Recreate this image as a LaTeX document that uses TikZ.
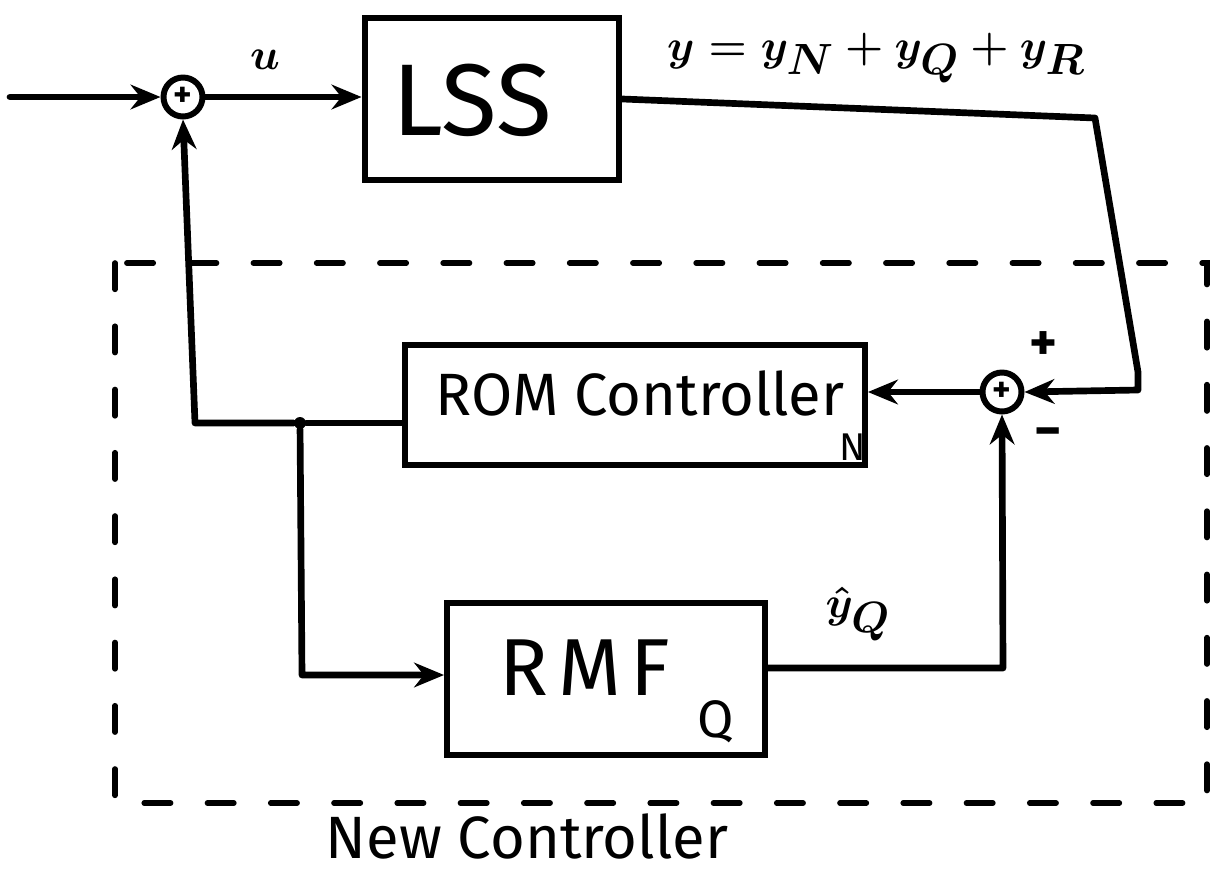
\documentclass[tikz,border=0pt]{standalone}
\usepackage{fontspec}
\setmainfont{Fira Sans}
\usetikzlibrary{arrows.meta}
\begin{document}
\begin{tikzpicture}[x=0.02cm,y=-0.02cm,
  wire/.style={line width=3.8pt, line cap=round, line join=round},
  arr/.style={wire,-{Stealth[length=17pt,width=14pt]}},
  blk/.style={draw,line width=3.4pt,inner sep=0pt},
  sumj/.style={draw,circle,line width=3.4pt,minimum size=0.78cm,inner sep=0pt,font=\fontsize{20}{20}\selectfont\bfseries},
  lbl/.style={inner sep=0pt},
  dashbox/.style={line width=3.2pt, line cap=round, dash pattern=on 15pt off 21pt}
]
\useasboundingbox (0,0) rectangle (1221,873);
% blocks
\node[sumj] (s1) at (183,97) {+};
\node[sumj] (s2) at (1002,392) {+};
\node[blk,minimum width=5.1cm,minimum height=3.24cm] (lss) at (492,99) {};
\node[lbl,font=\fontsize{58}{60}\selectfont] (lsst) at (472,100) {LSS};
\node[blk,minimum width=9.2cm,minimum height=2.4cm] (rom) at (635,405) {};
\node[lbl,font=\fontsize{34}{38}\selectfont] (romt) at (640,393) {ROM Controller};
\node[lbl,font=\fontsize{22}{24}\selectfont] (romn) at (853,447) {N};
\node[blk,minimum width=6.36cm,minimum height=3.04cm] (rmf) at (606,679) {};
\node[lbl,font=\fontsize{46}{48}\selectfont\addfontfeature{LetterSpace=12}] (rmft) at (585,668) {RMF};
\node[lbl,font=\fontsize{30}{32}\selectfont] (rmfq) at (716,722) {Q};
% labels
\node[lbl,font=\fontsize{36}{38}\selectfont\boldmath] (u) at (265,60) {$u$};
\node[lbl,font=\fontsize{39}{40}\selectfont\boldmath] (ylab) at (876,58) {$y = y_N + y_Q + y_R$};
\node[lbl,font=\fontsize{36}{38}\selectfont\boldmath] (yhat) at (858,614) {$\hat{y}_Q$};
\node[lbl,font=\fontsize{30}{30}\selectfont\bfseries] (plus) at (1043,346) {+};
\node[lbl,font=\fontsize{30}{30}\selectfont\bfseries] (minus) at (1048,438) {\textminus};
\node[lbl,font=\fontsize{34}{36}\selectfont] (newc) at (527,836) {New Controller};
% coordinates
\coordinate (in) at (10,97);
\coordinate (c1) at (1095,118);
\coordinate (c2) at (1138,372);
\coordinate (c3) at (1138,390);
\coordinate (j) at (300,423);
\coordinate (fb) at (195,423);
\coordinate (c4) at (302,675);
\coordinate (c5) at (1003,668);
\node[circle,fill,inner sep=0pt,minimum size=0.24cm] (jd) at (j) {};
% connectors
\draw[arr] (in) -- (s1.west);
\draw[arr] (s1.east) -- (s1.east -| lss.west);
\draw[arr] (lss.east) -- (c1) -- (c2) -- (c3) -- (s2.east);
\draw[arr] (s2.west) -- (s2.west -| rom.east);
\draw[wire] (j -| rom.west) -- (jd);
\draw[arr] (jd) -- (fb) -- (s1.south);
\draw[arr] (jd) -- (c4) -- (c4 -| rmf.west);
\draw[arr] (c5 -| rmf.east) -- (c5) -- (s2.south);
% dashed boundary
\draw[dashbox] (115,263) rectangle (1207,803);
\end{tikzpicture}
\end{document}
